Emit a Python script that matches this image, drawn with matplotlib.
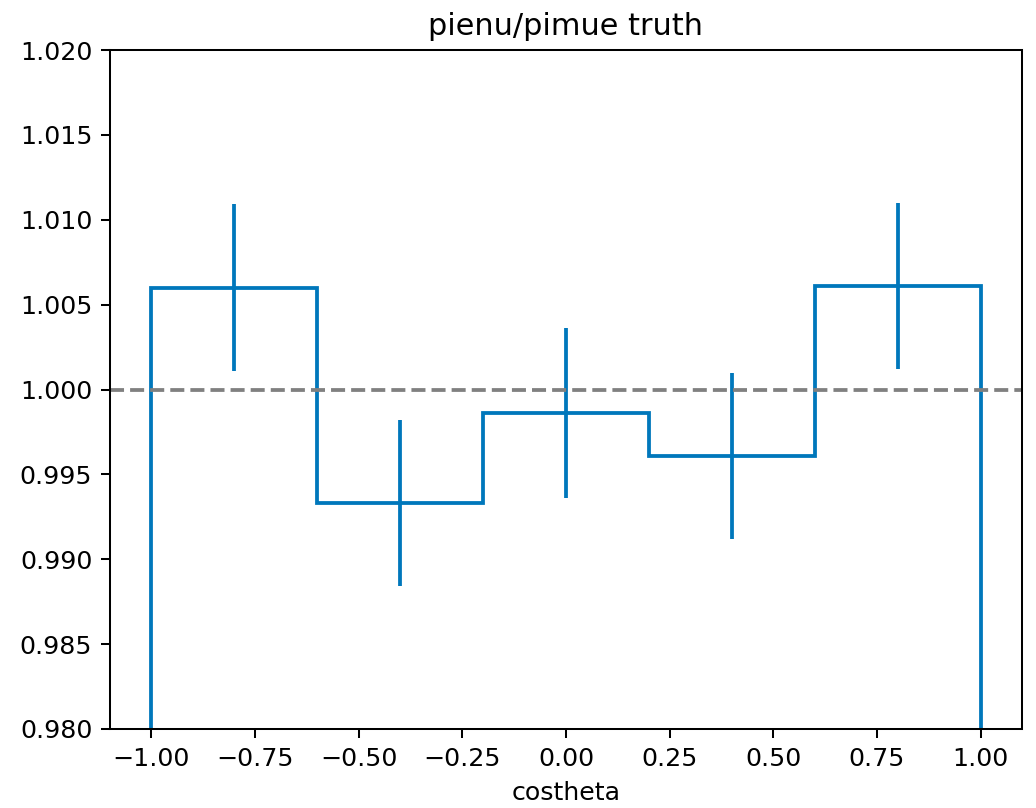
import numpy as np
import matplotlib
matplotlib.use('Agg')
import matplotlib.pyplot as plt

# costheta binning and pienu/pimue ratio per bin
edges = [-1.0, -0.6, -0.2, 0.2, 0.6, 1.0]
ratio = [1.0060, 0.9933, 0.9986, 0.9961, 1.0061]
err = [0.0049, 0.0049, 0.0050, 0.0049, 0.0049]

edges = np.array(edges)
centers = 0.5 * (edges[:-1] + edges[1:])
col = '#0077bb'
dpi = 182

fig = plt.figure(figsize=(1036 / dpi, 808 / dpi), dpi=dpi)
ax = fig.add_axes([110 / 1036, 1 - 729 / 808, 912 / 1036, 679 / 808])
ax.hist(centers, bins=edges, weights=ratio, histtype='step', color=col, lw=1.5)
ax.errorbar(centers, ratio, yerr=err, fmt='none', ecolor=col, elinewidth=1.5)
ax.axhline(1.0, color='gray', ls='--', lw=1.5)
ax.set_ylim(0.98, 1.02)
ax.set_xlabel('costheta')
ax.set_title('pienu/pimue truth')
fig.savefig('out.png', dpi=dpi)
